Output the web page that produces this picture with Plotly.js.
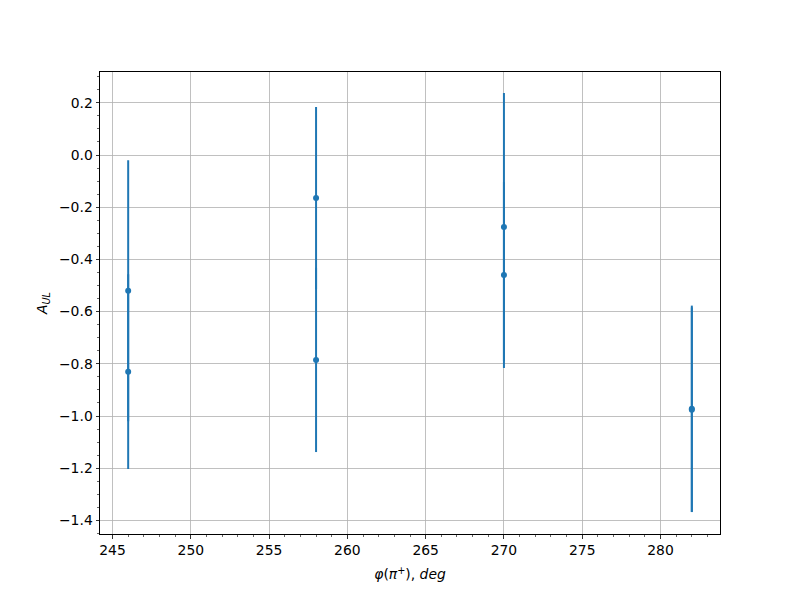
<!DOCTYPE html>
<html>
<head>
<meta charset="utf-8">
<script src="https://cdn.plot.ly/plotly-3.0.1.min.js"></script>
<style>html,body{margin:0;padding:0;background:#fff;}#plot{width:800px;height:600px;}</style>
</head>
<body>
<div id="plot"></div>
<script>
// Data
var phi = [246, 258, 270, 282];
var auA = [-0.52, -0.165, -0.276, -0.972];
var errA = [0.50, 0.349, 0.514, 0.395];
var auB = [-0.83, -0.785, -0.46, -0.976];
var errB = [0.373, 0.353, 0.356, 0.392];

var color = '#1f77b4';
function mk(y, e) {
  return {
    x: phi, y: y, type: 'scatter', mode: 'markers',
    marker: {color: color, size: 6},
    error_y: {type: 'data', array: e, visible: true, color: color, thickness: 2, width: 0},
    showlegend: false, hoverinfo: 'x+y'
  };
}
var traces = [mk(auA, errA), mk(auB, errB)];

var axFont = {family: 'DejaVu Sans, sans-serif', size: 13.9, color: '#000'};
var layout = {
  width: 800, height: 600,
  paper_bgcolor: '#fff', plot_bgcolor: '#fff',
  margin: {l: 100, r: 80, t: 72, b: 66},
  font: axFont,
  xaxis: {
    range: [244.2, 283.8], tick0: 245, dtick: 5, ticks: 'outside', ticklen: 3.5, tickwidth: 0.8,
    tickcolor: '#000', showline: true, linecolor: '#000', linewidth: 1, mirror: true,
    showgrid: true, gridcolor: '#b0b0b0', gridwidth: 0.8, zeroline: false,
    tickfont: axFont,
    minor: {dtick: 1, ticks: 'outside', ticklen: 2, tickwidth: 0.6, tickcolor: '#000', showgrid: false},
    title: {text: '<i>φ</i>(<i>π</i><sup>+</sup>), <i>deg</i>', font: axFont, standoff: 12}
  },
  yaxis: {
    range: [-1.452, 0.318], tick0: 0, dtick: 0.2, tickformat: '.1f', ticks: 'outside', ticklen: 3.5, tickwidth: 0.8,
    tickcolor: '#000', showline: true, linecolor: '#000', linewidth: 1, mirror: true,
    showgrid: true, gridcolor: '#b0b0b0', gridwidth: 0.8, zeroline: false,
    tickfont: axFont,
    minor: {dtick: 0.05, ticks: 'outside', ticklen: 2, tickwidth: 0.6, tickcolor: '#000', showgrid: false},
    title: {text: '<i>A</i><sub><i>UL</i></sub>', font: axFont, standoff: 8}
  }
};
Plotly.newPlot('plot', traces, layout, {staticPlot: true, displayModeBar: false});
</script>
</body>
</html>
